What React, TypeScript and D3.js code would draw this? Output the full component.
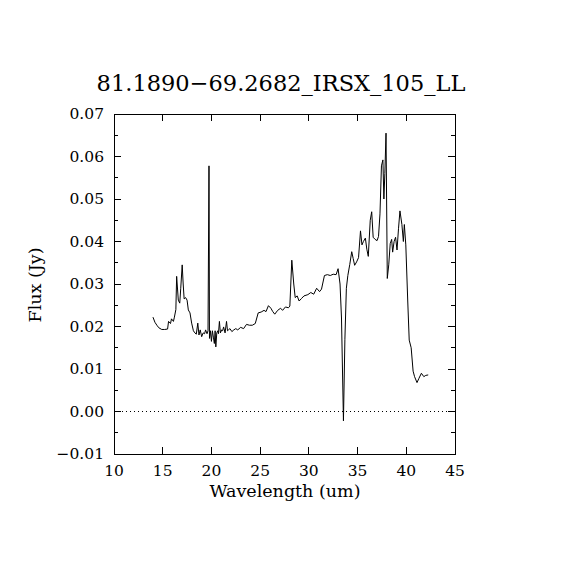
import React from "react";
import * as d3 from "d3";

const TITLE = "81.1890\u221269.2682_IRSX_105_LL";
const X_LABEL = "Wavelength (um)";
const Y_LABEL = "Flux (Jy)";

const xTicks = [10, 15, 20, 25, 30, 35, 40, 45];
const yTicks = [-0.01, 0.0, 0.01, 0.02, 0.03, 0.04, 0.05, 0.06, 0.07];
const yMinorTicks = [-0.005, 0.005, 0.015, 0.025, 0.035, 0.045, 0.055, 0.065];

const wavelength = [
  14.0, 14.2, 14.4, 14.6, 14.9, 15.2, 15.5, 15.6, 15.8, 15.9, 16.1, 16.2, 16.35, 16.43, 16.6, 16.75,
  16.85, 17.0, 17.1, 17.2, 17.35, 17.5, 17.63, 17.8, 17.97, 18.15, 18.3, 18.45, 18.6, 18.72, 18.85,
  19.0, 19.15, 19.3, 19.4, 19.55, 19.65, 19.75, 19.8, 19.9, 20.0, 20.1, 20.2, 20.3, 20.38, 20.45, 20.55,
  20.65, 20.72, 20.82, 20.92, 21.05, 21.15, 21.25, 21.4, 21.55, 21.65, 21.75, 21.9, 22.1, 22.3, 22.5,
  22.7, 23.0, 23.3, 23.6, 23.9, 24.2, 24.5, 24.8, 25.1, 25.4, 25.6, 25.85, 26.1, 26.3, 26.5, 26.8, 27.1,
  27.3, 27.6, 27.9, 28.05, 28.25, 28.45, 28.6, 28.8, 29.0, 29.25, 29.5, 29.9, 30.2, 30.5, 30.8, 31.1,
  31.3, 31.6, 31.9, 32.2, 32.5, 32.8, 33.0, 33.2, 33.35, 33.55, 33.7, 33.85, 34.0, 34.2, 34.4, 34.55,
  34.7, 34.9, 35.1, 35.3, 35.45, 35.6, 35.8, 35.95, 36.1, 36.3, 36.45, 36.6, 36.8, 37.0, 37.15, 37.3,
  37.45, 37.6, 37.7, 37.8, 37.92, 38.05, 38.2, 38.35, 38.5, 38.6, 38.75, 38.9, 39.05, 39.2, 39.35, 39.55,
  39.7, 39.8, 39.95, 40.15, 40.3, 40.5, 40.7, 40.85, 41.1, 41.3, 41.55, 41.8, 42.0, 42.25,
];

const flux = [
  0.0222, 0.021, 0.0203, 0.0197, 0.0193, 0.0193, 0.0194, 0.0212, 0.0207, 0.0218, 0.0212, 0.0222, 0.024,
  0.0318, 0.0262, 0.0255, 0.029, 0.0345, 0.03, 0.0265, 0.0268, 0.0262, 0.0239, 0.0232, 0.0208, 0.019,
  0.0185, 0.0182, 0.0208, 0.018, 0.0192, 0.0176, 0.0185, 0.0183, 0.0192, 0.0183, 0.019, 0.0578, 0.0172,
  0.019, 0.0165, 0.019, 0.0175, 0.016, 0.019, 0.0152, 0.0185, 0.019, 0.0183, 0.0212, 0.0185, 0.0192,
  0.019, 0.0199, 0.0185, 0.0212, 0.019, 0.0192, 0.0195, 0.0188, 0.0192, 0.0195, 0.0192, 0.0198, 0.0195,
  0.0205, 0.0203, 0.0203, 0.0207, 0.0232, 0.0234, 0.0238, 0.0235, 0.0249, 0.0243, 0.0235, 0.0229,
  0.0238, 0.0243, 0.0238, 0.0246, 0.0244, 0.0248, 0.0356, 0.03, 0.0268, 0.0272, 0.026, 0.0266, 0.0272,
  0.0275, 0.028, 0.0276, 0.029, 0.0282, 0.0288, 0.032, 0.0322, 0.032, 0.0323, 0.0322, 0.0336, 0.03,
  0.022, -0.0022, 0.017, 0.029, 0.032, 0.0346, 0.0376, 0.036, 0.0344, 0.0352, 0.0362, 0.0425, 0.0392,
  0.04, 0.0408, 0.0382, 0.0365, 0.045, 0.047, 0.041, 0.0405, 0.0402, 0.0412, 0.0465, 0.0578, 0.0592,
  0.05, 0.056, 0.0655, 0.0313, 0.0345, 0.0395, 0.0405, 0.0375, 0.04, 0.041, 0.038, 0.043, 0.0472, 0.044,
  0.04, 0.044, 0.0392, 0.026, 0.0168, 0.015, 0.0095, 0.0082, 0.0068, 0.0078, 0.009, 0.0082, 0.0085,
  0.0086,
];

const W = 570;
const H = 570;
const LEFT = 114;
const RIGHT = 455;
const TOP = 114;
const BOTTOM = 454;

export default function App() {
  const x = d3.scaleLinear().domain([10, 45]).range([LEFT, RIGHT]);
  const y = d3.scaleLinear().domain([-0.01, 0.07]).range([BOTTOM, TOP]);
  const pts: [number, number][] = wavelength.map((w, i) => [w, flux[i]]);
  const line = d3
    .line<[number, number]>()
    .x((d) => x(d[0]))
    .y((d) => y(d[1]));
  const font = "'DejaVu Serif', serif";
  const fmt = d3.format(".2f");
  return (
    <svg
      width={W}
      height={H}
      style={{ position: "absolute", left: 0, top: 0, background: "#fff" }}
    >
      <rect x={0} y={0} width={W} height={H} fill="#fff" />
      <text x={281} y={91} textAnchor="middle" fontFamily={font} fontSize={22.5} fill="#000">
        {TITLE}
      </text>
      <line
        x1={LEFT}
        x2={RIGHT}
        y1={y(0)}
        y2={y(0)}
        stroke="#000"
        strokeWidth={1}
        strokeDasharray="1,3"
        shapeRendering="crispEdges"
      />
      <path d={line(pts) || ""} fill="none" stroke="#000" strokeWidth={1} />
      <rect
        x={LEFT}
        y={TOP}
        width={RIGHT - LEFT}
        height={BOTTOM - TOP}
        fill="none"
        stroke="#000"
        strokeWidth={1}
        shapeRendering="crispEdges"
      />
      {xTicks.map((t) => (
        <g key={"x" + t}>
          <line x1={x(t)} x2={x(t)} y1={BOTTOM} y2={BOTTOM - 7} stroke="#000" shapeRendering="crispEdges" />
          <line x1={x(t)} x2={x(t)} y1={TOP} y2={TOP + 7} stroke="#000" shapeRendering="crispEdges" />
          <text x={x(t)} y={476} textAnchor="middle" fontFamily={font} fontSize={15.5} fill="#000">
            {t}
          </text>
        </g>
      ))}
      {yTicks.map((t) => (
        <g key={"y" + t}>
          <line x1={LEFT} x2={LEFT + 7} y1={y(t)} y2={y(t)} stroke="#000" shapeRendering="crispEdges" />
          <line x1={RIGHT} x2={RIGHT - 7} y1={y(t)} y2={y(t)} stroke="#000" shapeRendering="crispEdges" />
          <text
            x={104}
            y={y(t) + 5}
            textAnchor="end"
            fontFamily={font}
            fontSize={15.5}
            fill="#000"
          >
            {fmt(t).replace("-", "\u2212")}
          </text>
        </g>
      ))}
      {yMinorTicks.map((t) => (
        <g key={"ym" + t}>
          <line x1={LEFT} x2={LEFT + 4} y1={y(t)} y2={y(t)} stroke="#000" shapeRendering="crispEdges" />
          <line x1={RIGHT} x2={RIGHT - 4} y1={y(t)} y2={y(t)} stroke="#000" shapeRendering="crispEdges" />
        </g>
      ))}
      <text x={285} y={497} textAnchor="middle" fontFamily={font} fontSize={17.5} fill="#000">
        {X_LABEL}
      </text>
      <text
        transform={`translate(41,285) rotate(-90)`}
        textAnchor="middle"
        fontFamily={font}
        fontSize={17.5}
        fill="#000"
      >
        {Y_LABEL}
      </text>
    </svg>
  );
}
